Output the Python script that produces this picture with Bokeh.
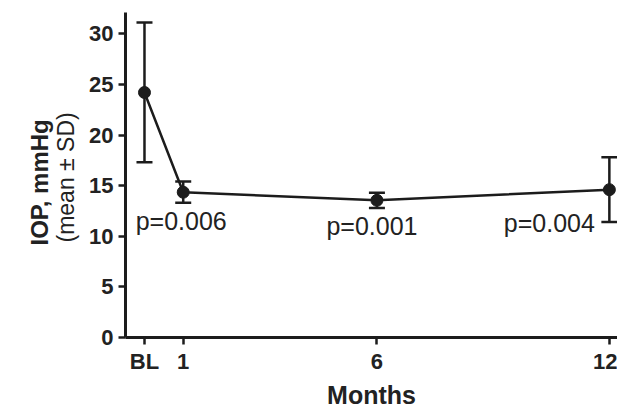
import numpy as np
from bokeh.plotting import figure
from bokeh.models import Range1d, FixedTicker, Title, Whisker, TeeHead, ColumnDataSource
from bokeh.core.properties import value
from bokeh.embed import file_html
from bokeh.resources import INLINE

# ---- data ----
months = [0, 1, 6, 12]
month_labels = ["BL", "1", "6", "12"]
iop_mean = [24.2, 14.35, 13.55, 14.6]
iop_sd = [6.9, 1.05, 0.75, 3.2]
p_months = [1, 6, 12]
p_values = ["p=0.006", "p=0.001", "p=0.004"]
y_ticks = [0, 5, 10, 15, 20, 25, 30]

INK = "#1c1c1c"
TXT = "#222222"
FONT = "Liberation Sans"

upper = [m + s for m, s in zip(iop_mean, iop_sd)]
lower = [m - s for m, s in zip(iop_mean, iop_sd)]
src = ColumnDataSource(dict(x=months, y=iop_mean, upper=upper, lower=lower))

p = figure(width=617, height=411, output_backend="svg", toolbar_location=None,
           x_range=Range1d(-0.49, 12.21), y_range=Range1d(0, 32.1),
           min_border_left=125, min_border_right=0, min_border_top=12, min_border_bottom=74)
p.outline_line_color = None
p.grid.visible = False
p.background_fill_color = "white"
p.border_fill_color = "white"

# axes
p.xaxis.ticker = FixedTicker(ticks=months)
p.xaxis.major_label_overrides = {m: l for m, l in zip(months, month_labels)}
p.yaxis.ticker = FixedTicker(ticks=y_ticks)
for ax in (p.xaxis, p.yaxis):
    ax.axis_line_width = 3
    ax.axis_line_color = INK
    ax.major_tick_line_width = 2.5
    ax.major_tick_line_color = INK
    ax.major_tick_out = 7
    ax.major_tick_in = 0
    ax.minor_tick_line_color = None
    ax.major_label_text_font = FONT
    ax.major_label_text_font_style = "bold"
    ax.major_label_text_font_size = "22px"
    ax.major_label_text_color = TXT
p.xaxis.major_label_standoff = 4
p.yaxis.major_label_standoff = 5
p.xaxis.axis_label = "Months"
p.xaxis.axis_label_text_font = FONT
p.xaxis.axis_label_text_font_style = "bold"
p.xaxis.axis_label_text_font_size = "25px"
p.xaxis.axis_label_text_color = TXT
p.xaxis.axis_label_standoff = 4

# y titles (rotated, in the left panel)
p.add_layout(Title(text="(mean \u00b1 SD)", align="left", text_font=FONT,
                   text_font_style="normal", text_font_size="23px",
                   text_color=TXT, standoff=16, offset=95), "left")
p.add_layout(Title(text="IOP, mmHg", align="left", text_font=FONT,
                   text_font_style="bold", text_font_size="24px",
                   text_color=TXT, standoff=-20, offset=92), "left")

# data
p.line("x", "y", source=src, line_width=2.5, line_color=INK)
p.add_layout(Whisker(base="x", upper="upper", lower="lower", source=src,
                     line_width=2.5, line_color=INK,
                     upper_head=TeeHead(size=16, line_width=2.5, line_color=INK),
                     lower_head=TeeHead(size=16, line_width=2.5, line_color=INK)))
p.scatter("x", "y", source=src, size=12, marker="circle",
          fill_color=INK, line_color=INK)

# p-values
p_src = ColumnDataSource(dict(x=p_months,
                              y=[iop_mean[months.index(m)] for m in p_months],
                              t=p_values,
                              dx=[-2, -5, -60], dy=[29, 26, 33]))
p.text("x", "y", text="t", source=p_src, x_offset="dx", y_offset="dy",
       text_align="center", text_baseline="alphabetic",
       text_font=value(FONT), text_font_size="25px", text_color=TXT)

open("out.html", "w").write(file_html(p, INLINE))
